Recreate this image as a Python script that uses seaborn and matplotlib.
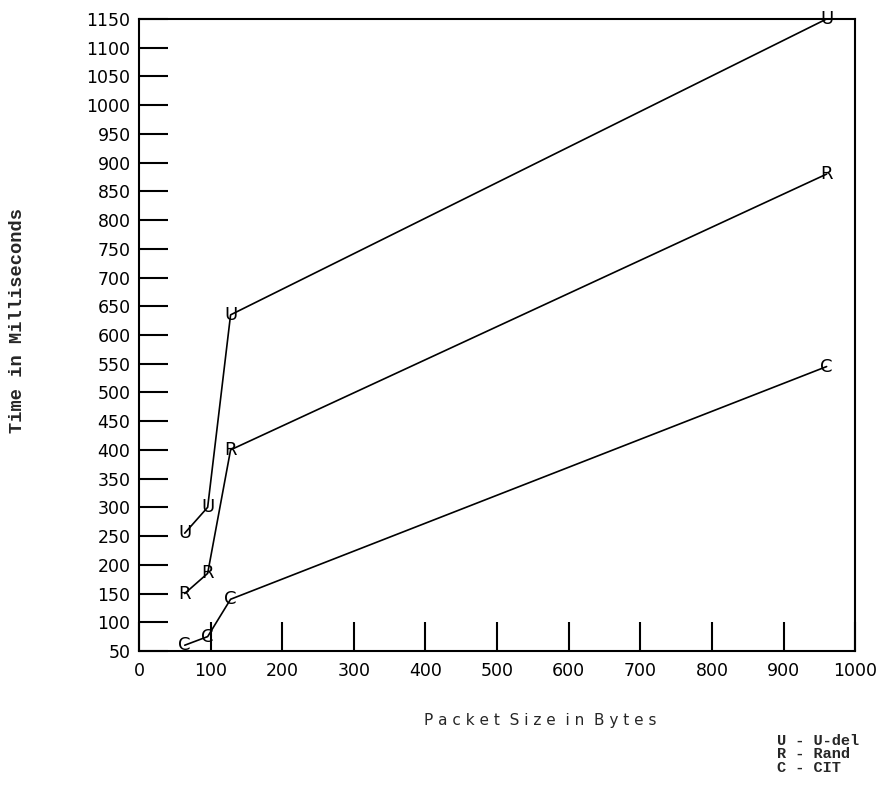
import matplotlib
matplotlib.use("Agg")
import matplotlib.pyplot as plt
import seaborn as sns
import pandas as pd

# Packet sizes (bytes) and measured times (ms) per routing scheme
packet_sizes = [64, 96, 128, 960]
udel_times = [255, 300, 635, 1150]
rand_times = [150, 185, 400, 880]
cit_times = [60, 75, 140, 545]

series_codes = ["U", "R", "C"]
series_names = ["U-del", "Rand", "CIT"]
x_ticks = list(range(0, 1001, 100))
y_ticks = list(range(50, 1151, 50))

df = pd.DataFrame({
    "size": packet_sizes * 3,
    "time": udel_times + rand_times + cit_times,
    "code": [c for c in series_codes for _ in packet_sizes],
})

sns.set_style("white")
plt.rcParams["font.family"] = ["DejaVu Sans"]

fig = plt.figure(figsize=(8.79, 7.90), dpi=100)
ax = fig.add_axes([0.158, 0.176, 0.815, 0.800])

sns.lineplot(data=df, x="size", y="time", units="code", estimator=None,
             color="black", linewidth=1.2, sort=False, ax=ax, legend=False)

# Letter markers at each data point
for _, row in df.iterrows():
    ax.text(row["size"], row["time"], row["code"], ha="center", va="center",
            fontsize=13, color="black", family="DejaVu Sans")

ax.set_xlim(0, 1000)
ax.set_ylim(50, 1150)
ax.set_xticks(x_ticks)
ax.set_yticks(y_ticks)
ax.set_xticklabels([str(v) for v in x_ticks], fontsize=12.5)
ax.set_yticklabels([str(v) for v in y_ticks], fontsize=12.5)
ax.tick_params(axis="both", which="major", bottom=True, left=True,
               top=False, right=False, direction="in", length=21,
               width=1.5, colors="black", pad=6)
ax.tick_params(axis="x", pad=8)
for side in ["left", "bottom", "top", "right"]:
    ax.spines[side].set_visible(True)
    ax.spines[side].set_color("black")
    ax.spines[side].set_linewidth(1.5)

ax.set_xlabel("")
ax.set_ylabel("")

fig.text(540 / 879, 1 - 721 / 790, "P a c k e t  S i z e  i n  B y t e s",
         ha="center", va="center", fontsize=11)
fig.text(18 / 879, 1 - 321 / 790, "Time in Milliseconds", rotation=90,
         ha="center", va="center", fontsize=13.5, family="Liberation Mono",
         fontweight="bold")

legend_lines = [f"{c} - {n}" for c, n in zip(series_codes, series_names)]
for i, line in enumerate(legend_lines):
    fig.text(777 / 879, 1 - (741 + 13.5 * i) / 790, line, ha="left",
             va="center", fontsize=11, family="Liberation Mono",
             fontweight="bold")

fig.savefig("out.png", dpi=100, facecolor="white")
